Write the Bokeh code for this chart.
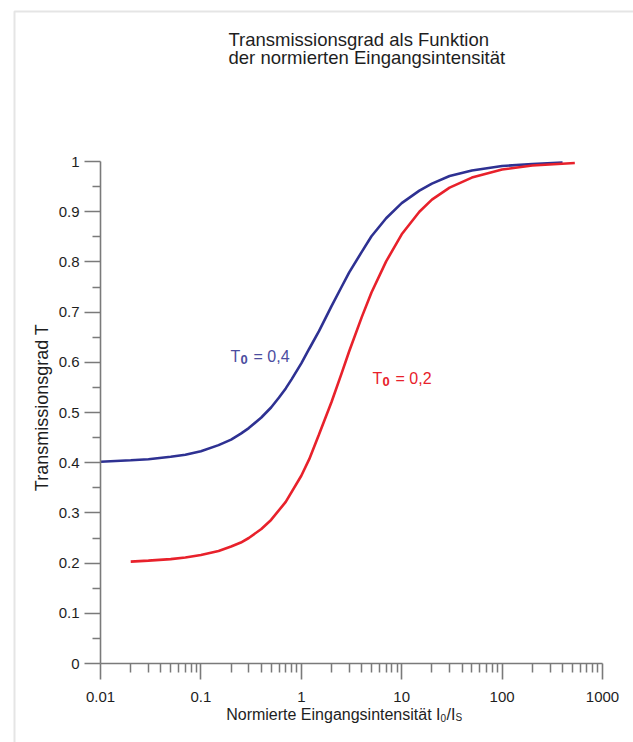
import math
from bokeh.plotting import figure
from bokeh.models import (Range1d, FixedTicker, CustomJSTickFormatter, Label, BoxAnnotation)
from bokeh.embed import file_html
from bokeh.resources import INLINE

# ---------------- data ----------------
title_lines = ["Transmissionsgrad als Funktion", "der normierten Eingangsintensität"]
y_label = "Transmissionsgrad T"
x_label_main = "Normierte Eingangsintensität I"

x_ticks = [0.01, 0.1, 1, 10, 100, 1000]
x_tick_labels = ["0.01", "0.1", "1", "10", "100", "1000"]
x_minor = [m * d for d in [0.01, 0.1, 1, 10, 100] for m in [2, 3, 4, 5, 6, 7, 8, 9]]
y_ticks = [0, 0.1, 0.2, 0.3, 0.4, 0.5, 0.6, 0.7, 0.8, 0.9, 1]
y_tick_labels = ["0", "0.1", "0.2", "0.3", "0.4", "0.5", "0.6", "0.7", "0.8", "0.9", "1"]
y_minor = [0.05, 0.15, 0.25, 0.35, 0.45, 0.55, 0.65, 0.75, 0.85, 0.95]

# T0 = 0,4 (blue)
blue_I = [0.01, 0.02, 0.03, 0.05, 0.07, 0.1, 0.15, 0.2, 0.25, 0.3, 0.4, 0.5, 0.6, 0.7,
          0.8, 1, 1.2, 1.5, 2, 2.5, 3, 4, 5, 7, 10, 15, 20, 30, 50, 100, 200, 400]
blue_T = [0.402, 0.405, 0.407, 0.412, 0.416, 0.423, 0.435, 0.446, 0.458, 0.469, 0.490,
          0.510, 0.530, 0.548, 0.566, 0.598, 0.627, 0.662, 0.712, 0.749, 0.779, 0.820,
          0.851, 0.887, 0.917, 0.942, 0.956, 0.971, 0.982, 0.991, 0.995, 0.998]
# T0 = 0,2 (red)
red_I = [0.02, 0.03, 0.05, 0.07, 0.1, 0.15, 0.2, 0.25, 0.3, 0.4, 0.5, 0.7, 1, 1.2, 1.5,
         2, 2.5, 3, 4, 5, 7, 10, 15, 20, 30, 50, 100, 200, 530]
red_T = [0.203, 0.205, 0.208, 0.211, 0.216, 0.224, 0.233, 0.241, 0.250, 0.268, 0.286,
         0.322, 0.374, 0.407, 0.456, 0.521, 0.576, 0.622, 0.690, 0.739, 0.801, 0.855,
         0.900, 0.924, 0.948, 0.968, 0.984, 0.992, 0.997]

blue_label = ("T", "0", "= 0,4")
red_label = ("T", "0", "= 0,2")

# ---------------- layout helpers (pixel -> data) ----------------
W, H = 633, 742
X0_PX, DEC_PX = 100.0, 100.4      # pixel of 0.01, pixels per decade
Y0_PX, UNIT_PX = 663.0, 502.0     # pixel of T=0, pixels per unit T
SHIFT = 6                         # renderer baseline offset compensation

def px2x(px):
    return 10 ** (-2 + (px - X0_PX) / DEC_PX)

def py2y(py):
    return (Y0_PX - py) / UNIT_PX

FONT = "Liberation Sans"
BLUE = "#2e3192"
BLUE_TXT = "#4b4d9f"
RED = "#e8212b"
AXIS = "#7a7a7a"
TXT = "#1e1e1e"

p = figure(width=W, height=H, x_axis_type="log",
           x_range=Range1d(px2x(0), px2x(W)), y_range=Range1d(py2y(H), py2y(0)),
           output_backend="svg", toolbar_location=None,
           min_border_left=0, min_border_right=0, min_border_top=0, min_border_bottom=0)
p.outline_line_color = None
p.grid.visible = False
p.background_fill_color = "white"
p.border_fill_color = "white"

p.xaxis.fixed_location = 0
p.yaxis.fixed_location = x_ticks[0]
p.xaxis.bounds = (x_ticks[0], x_ticks[-1])
p.yaxis.bounds = (y_ticks[0], y_ticks[-1])

p.xaxis.ticker = FixedTicker(ticks=x_ticks, minor_ticks=x_minor)
p.yaxis.ticker = FixedTicker(ticks=y_ticks, minor_ticks=y_minor)
fmt_code = """
for (let i = 0; i < vals.length; i++) {
  if (Math.abs(vals[i] - tick) <= 1e-9 * Math.max(1, Math.abs(vals[i]))) return labels[i];
}
return '';
"""
p.xaxis.formatter = CustomJSTickFormatter(args=dict(vals=x_ticks, labels=x_tick_labels), code=fmt_code)
p.yaxis.formatter = CustomJSTickFormatter(args=dict(vals=y_ticks, labels=y_tick_labels), code=fmt_code)

for ax in (p.xaxis, p.yaxis):
    ax.axis_line_color = AXIS
    ax.axis_line_width = 1.6
    ax.major_tick_line_color = AXIS
    ax.major_tick_line_width = 1.6
    ax.minor_tick_line_color = AXIS
    ax.minor_tick_line_width = 1.5
    ax.major_tick_in = 0
    ax.minor_tick_in = 0
    ax.major_label_text_font = FONT
    ax.major_label_text_font_size = "15px"
    ax.major_label_text_color = TXT
p.xaxis.major_tick_out = 16
p.xaxis.minor_tick_out = 9
p.yaxis.major_tick_out = 16
p.yaxis.minor_tick_out = 8
p.xaxis.major_label_standoff = 12
p.yaxis.major_label_standoff = 5

# page frame line (top/left edges of the framed image)
p.add_layout(BoxAnnotation(left=px2x(14), right=px2x(W + 50), top=py2y(11), bottom=py2y(H + 50),
                           fill_alpha=0, line_color="#a8a8a8", line_width=2, level="underlay"))

p.line(blue_I, blue_T, line_color=BLUE, line_width=2.6)
p.line(red_I, red_T, line_color=RED, line_width=2.6)

def label(px, py, text, size, color=TXT, align="left", angle=0.0, style="normal"):
    p.add_layout(Label(x=px2x(px), y=py2y(py), text=text, text_font=FONT,
                       text_font_size=size, text_color=color, text_font_style=style,
                       text_baseline="alphabetic", text_align=align, angle=angle))

# title
label(228, 45 - SHIFT, title_lines[0], "18.5px")
label(228, 63 - SHIFT, title_lines[1], "18.5px")

# y-axis label (rotated)
label(47 - SHIFT, 407, y_label, "18px", align="center", angle=math.pi / 2)

# x-axis label with subscripts
label(440, 720 - SHIFT, x_label_main, "16px", align="right")
label(440, 723 - SHIFT, "0", "10px")
label(446, 720 - SHIFT, "/I", "16px")
label(455, 723 - SHIFT, "S", "10px")

# curve labels
def curve_label(px, py, parts, color):
    t, sub, rest = parts
    label(px, py - SHIFT, t, "16px", color=color)
    label(px + 10, py + 3 - SHIFT, sub, "13px", color=color, style="bold")
    label(px + 23, py - SHIFT, rest, "16px", color=color)

curve_label(230, 362, blue_label, BLUE_TXT)
curve_label(372, 384, red_label, RED)

open("out.html", "w").write(file_html(p, INLINE))
